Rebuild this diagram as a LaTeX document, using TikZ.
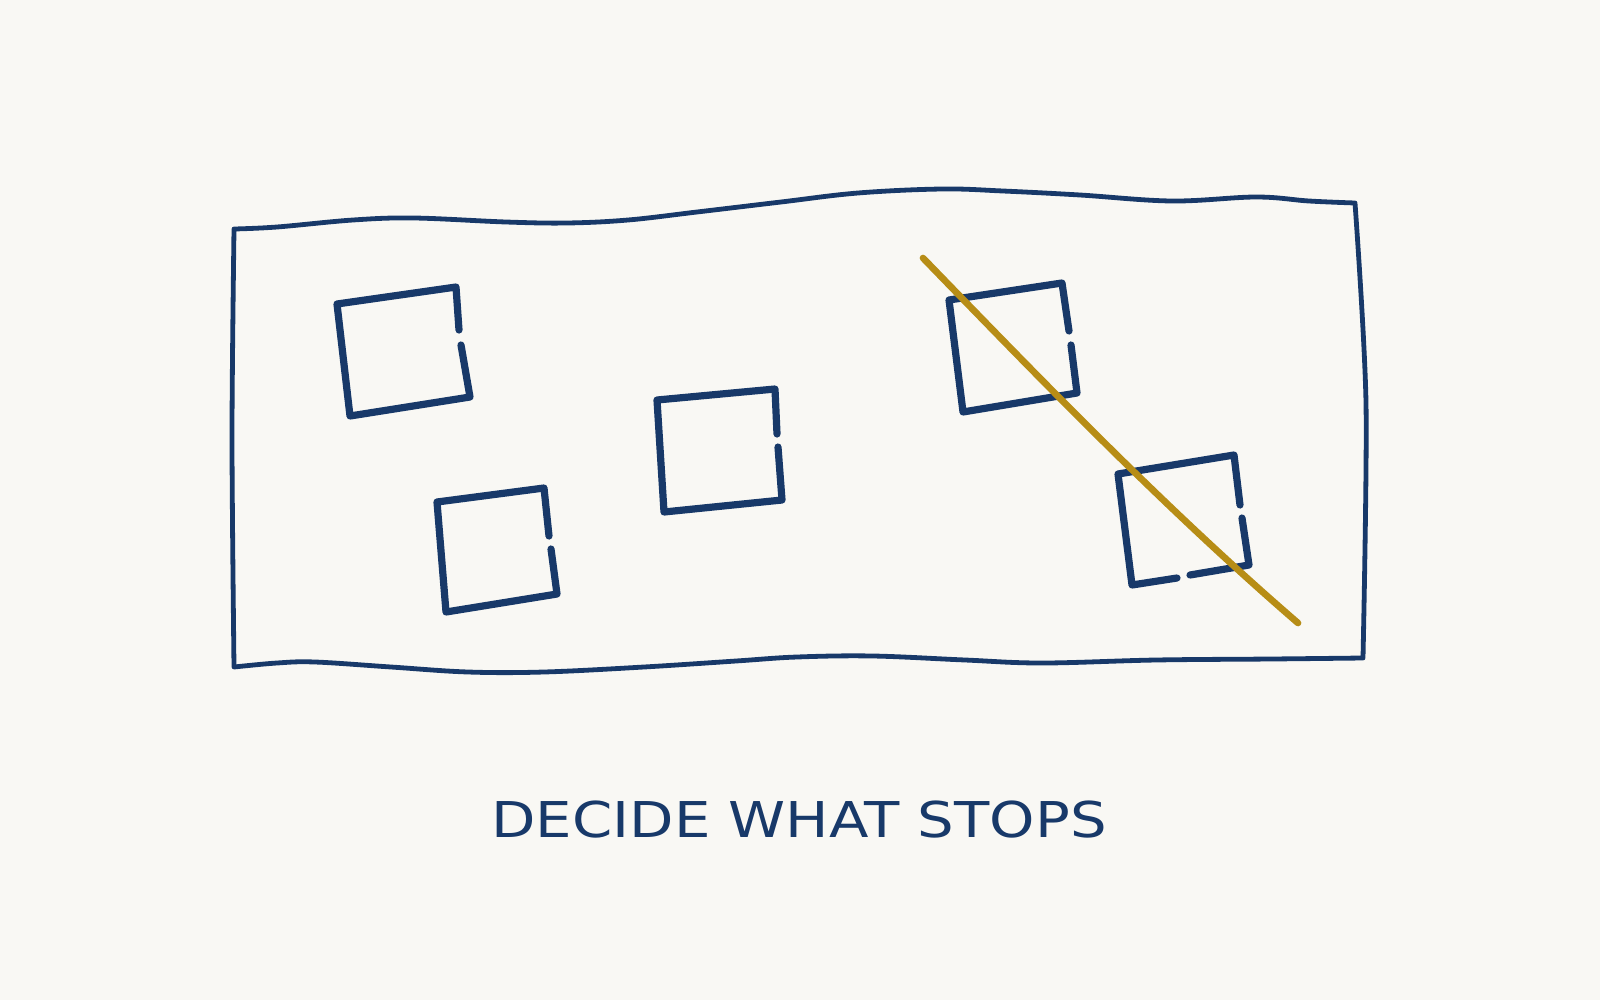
\documentclass[tikz,border=0pt]{standalone}
\usepackage{xcolor}
\usepackage{fontspec}
\usepackage{tikz}
\newfontfamily\notefont[FakeStretch=1.17]{DejaVu Sans}
\definecolor{inkblue}{RGB}{24,57,105}
\definecolor{inkgold}{RGB}{183,141,22}
\definecolor{paper}{RGB}{249,248,244}

\begin{document}
\begin{tikzpicture}[x=0.75pt,y=0.75pt,yscale=-1,xscale=1,
    frame/.style={draw=inkblue,line width=3.6pt,line join=round},
    box/.style={draw=inkblue,line width=5.4pt,line cap=round,line join=round},
    cut/.style={draw=inkgold,line width=5pt,line cap=round}]

    \fill[paper] (0,0) rectangle (1600,1000);
    \useasboundingbox (0,0) rectangle (1600,1000);

    % outer sheet
    \draw[frame] plot[smooth,tension=0.6] coordinates {(234,229) (277,227) (353,220) (414,218) (506,222) (567,223) (628,220) (697,212) (781,202) (858,193) (942,189) (1003,191) (1080,195) (1172,201) (1256,197) (1309,201) (1355,203)}
        -- plot[smooth] coordinates {(1355,203) (1366,403) (1363,658)}
        -- plot[smooth,tension=0.6] coordinates {(1363,658) (1271,659) (1156,660) (1042,663) (965,660) (873,656) (797,657) (736,661) (644,667) (544,672) (468,672) (391,667) (315,662) (277,663) (234,667)}
        -- plot[smooth] coordinates {(234,667) (232,437) (234,229)} -- cycle;

    % boxes, each with a gap on the right side
    \draw[box] (461,345) -- (470,397) -- (350,416) -- (337,304) -- (456,287) -- (459,330);
    \draw[box] (551,549) -- (557,594) -- (446,612) -- (437,502) -- (544,488) -- (549,536);
    \draw[box] (778,447) -- (782,500) -- (664,512) -- (657,400) -- (775,389) -- (777,434);
    \draw[box] (1071,345) -- (1077,393) -- (963,412) -- (949,300) -- (1062,283) -- (1069,331);
    \draw[box] (1242,518) -- (1249,565) -- (1190,575);
    \draw[box] (1177,578) -- (1132,585) -- (1118,474) -- (1234,455) -- (1240,505);

    % the cut
    \coordinate (cutA) at (923,258);
    \coordinate (cutB) at (1298,623);
    \draw[cut] (cutA) .. controls (1045,384) and (1166,509) .. (cutB);

    \node (caption) at (799,820) {\notefont\fontsize{37}{40}\selectfont\color{inkblue}DECIDE WHAT STOPS};

\end{tikzpicture}
\end{document}
